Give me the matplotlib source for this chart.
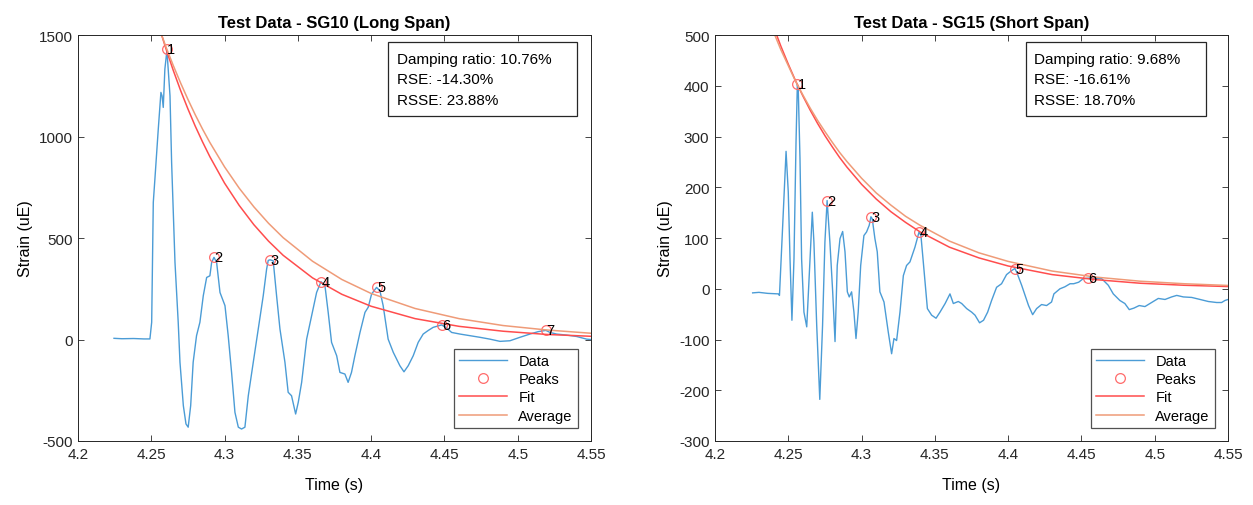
import matplotlib
matplotlib.use("Agg")
import matplotlib.pyplot as plt
from matplotlib.patches import Rectangle

plt.rcParams['font.family'] = ['Liberation Sans', 'DejaVu Sans']
plt.rcParams['axes.unicode_minus'] = False

# ---- SG10 (long span) ----
sg10_t = [4.2246, 4.2300, 4.2380, 4.2450, 4.2491, 4.2503, 4.2514, 4.2525, 4.2548, 4.2566,
          4.2574, 4.2582, 4.2593, 4.2607, 4.2628, 4.2639, 4.2662, 4.2684, 4.2696, 4.2719,
          4.2737, 4.2752, 4.2769, 4.2786, 4.2809, 4.2832, 4.2855, 4.2878, 4.2900, 4.2912,
          4.2928, 4.2946, 4.2969, 4.3003, 4.3025, 4.3048, 4.3071, 4.3094, 4.3116, 4.3139,
          4.3162, 4.3196, 4.3230, 4.3264, 4.3287, 4.3298, 4.3310, 4.3332, 4.3355, 4.3378,
          4.3412, 4.3434, 4.3457, 4.3485, 4.3503, 4.3526, 4.3560, 4.3594, 4.3628, 4.3658,
          4.3685, 4.3707, 4.3730, 4.3765, 4.3787, 4.3821, 4.3843, 4.3866, 4.3889, 4.3924,
          4.3958, 4.3980, 4.4003, 4.4037, 4.4060, 4.4082, 4.4116, 4.4151, 4.4196, 4.4224,
          4.4253, 4.4287, 4.4321, 4.4355, 4.4390, 4.4423, 4.4480, 4.4510, 4.4549, 4.4606,
          4.4674, 4.4742, 4.4810, 4.4879, 4.4947, 4.5015, 4.5083, 4.5140, 4.5192, 4.5220,
          4.5265, 4.5333, 4.5402, 4.5470, 4.5500]
sg10_v = [6, 4, 5, 3, 3, 85, 676, 791, 1037, 1218,
          1200, 1144, 1333, 1425, 1201, 873, 380, 85, -112, -326,
          -416, -432, -326, -112, 19, 85, 216, 306, 314, 380,
          405, 380, 232, 167, 19, -162, -359, -432, -441, -432,
          -277, -112, 52, 216, 347, 390, 393, 388, 216, 52,
          -112, -260, -277, -367, -309, -211, 2, 117, 232, 285,
          265, 134, -14, -80, -162, -170, -211, -162, -80, 35,
          134, 159, 224, 257, 240, 167, 2, -63, -129, -159,
          -129, -80, -14, 27, 45, 60, 72, 60, 35, 27,
          19, 11, 2, -9, -6, 11, 27, 39, 45, 35,
          27, 22, 15, 2, 0]
sg10_peak_t = [4.2607, 4.2928, 4.3310, 4.3658, 4.4037, 4.4480, 4.5192]
sg10_peak_v = [1430, 408, 393, 285, 257, 70, 45]
sg10_curve_t = [4.255, 4.26, 4.265, 4.27, 4.275, 4.28, 4.285, 4.29, 4.30, 4.31,
                4.32, 4.33, 4.34, 4.36, 4.38, 4.40, 4.43, 4.46, 4.49, 4.52, 4.55]
sg10_fit = [1549, 1434, 1327, 1228, 1137, 1052, 974, 901, 771, 661,
            566, 485, 415, 304, 223, 164, 103, 65, 41, 25, 16]
sg10_avg = [1542, 1443, 1351, 1265, 1184, 1108, 1037, 971, 851, 746,
            654, 573, 502, 386, 296, 227, 153, 103, 69, 47, 31]
sg10_stats = ["Damping ratio: 10.76%", "RSE: -14.30%", "RSSE: 23.88%"]

# ---- SG15 (short span) ----
sg15_t = [4.2257, 4.2300, 4.2360, 4.2432, 4.2440, 4.2462, 4.2485, 4.2500, 4.2512, 4.2525,
          4.2539, 4.2553, 4.2562, 4.2568, 4.2580, 4.2591, 4.2607, 4.2626, 4.2643, 4.2664,
          4.2675, 4.2694, 4.2715, 4.2734, 4.2750, 4.2765, 4.2784, 4.2803, 4.2819, 4.2834,
          4.2853, 4.2871, 4.2887, 4.2903, 4.2916, 4.2932, 4.2948, 4.2962, 4.2977, 4.2994,
          4.3016, 4.3034, 4.3052, 4.3064, 4.3073, 4.3091, 4.3107, 4.3125, 4.3153, 4.3182,
          4.3205, 4.3221, 4.3239, 4.3262, 4.3285, 4.3307, 4.3330, 4.3364, 4.3392, 4.3405,
          4.3421, 4.3449, 4.3478, 4.3508, 4.3535, 4.3570, 4.3603, 4.3626, 4.3660, 4.3683,
          4.3717, 4.3751, 4.3774, 4.3805, 4.3832, 4.3860, 4.3887, 4.3921, 4.3955, 4.3989,
          4.4024, 4.4046, 4.4058, 4.4092, 4.4139, 4.4167, 4.4194, 4.4228, 4.4262, 4.4296,
          4.4312, 4.4353, 4.4387, 4.4422, 4.4447, 4.4481, 4.4512, 4.4546, 4.4580, 4.4638,
          4.4683, 4.4717, 4.4762, 4.4796, 4.4826, 4.4858, 4.4894, 4.4933, 4.4967, 4.5024,
          4.5070, 4.5115, 4.5150, 4.5195, 4.5252, 4.5309, 4.5365, 4.5422, 4.5456, 4.5479,
          4.5500]
sg15_v = [-8, -7, -9, -10, -13, 125, 271, 191, 59, -62,
          59, 290, 403, 395, 257, 59, -46, -75, 26, 151,
          92, -72, -218, -72, 92, 174, 92, -6, -104, 46,
          99, 113, 73, -6, -16, -6, -46, -98, -46, 46,
          105, 112, 125, 142, 138, 99, 73, -6, -26, -85,
          -128, -98, -102, -46, 26, 46, 53, 82, 112, 105,
          53, -39, -52, -58, -46, -29, -10, -29, -25, -29,
          -39, -46, -52, -67, -62, -46, -23, 3, 10, 28,
          36, 40, 33, 7, -33, -51, -39, -31, -33, -26,
          -10, 0, 4, 10, 10, 13, 20, 21, 21, 20,
          7, -10, -23, -29, -41, -38, -33, -35, -29, -19,
          -21, -16, -13, -16, -17, -21, -25, -27, -27, -23,
          -21]
sg15_peak_t = [4.2562, 4.2765, 4.3064, 4.3392, 4.4046, 4.4546]
sg15_peak_v = [403, 174, 142, 112, 40, 21]
sg15_curve_t = [4.24, 4.245, 4.25, 4.255, 4.26, 4.265, 4.27, 4.275, 4.28, 4.285,
                4.29, 4.30, 4.31, 4.32, 4.33, 4.34, 4.36, 4.38, 4.40, 4.43,
                4.46, 4.49, 4.52, 4.55]
sg15_fit = [516, 478, 443, 410, 380, 352, 326, 302, 280, 259,
            240, 206, 177, 152, 131, 112, 82, 61, 45, 28,
            18, 11, 7, 4.5]
sg15_avg = [506, 471, 440, 409, 382, 356, 332, 310, 289, 269,
            251, 218, 189, 165, 143, 125, 94, 71, 54, 35,
            23, 15, 10, 6.6]
sg15_stats = ["Damping ratio: 9.68%", "RSE: -16.61%", "RSSE: 18.70%"]

C_DATA = '#4b9cd6'
C_FIT = '#ff4d4d'
C_AVG = '#ef9b78'
C_PEAK = '#ff6b6b'
C_AX = '#262626'


def draw_panel(ax, title, t, v, pk_t, pk_v, ct, fit, avg, stats, ylim, yticks, box_x):
    ax.plot(t, v, color=C_DATA, lw=1.0, label='Data')
    ax.plot(pk_t, pk_v, 'o', mfc='none', mec=C_PEAK, ms=7, mew=0.9, label='Peaks')
    ax.plot(ct, fit, color=C_FIT, lw=1.1, label='Fit')
    ax.plot(ct, avg, color=C_AVG, lw=1.1, label='Average')
    for i, (px, py) in enumerate(zip(pk_t, pk_v)):
        ax.text(px + 0.0003, py, str(i + 1), fontsize=10.5, ha='left', va='center',
                color='black')

    ax.set_xlim(4.2, 4.55)
    ax.set_ylim(*ylim)
    ax.set_xticks([4.2, 4.25, 4.3, 4.35, 4.4, 4.45, 4.5, 4.55])
    ax.set_xticklabels(['4.2', '4.25', '4.3', '4.35', '4.4', '4.45', '4.5', '4.55'])
    ax.set_yticks(yticks)
    ax.tick_params(direction='in', top=True, right=True, length=4, width=0.6,
                   colors=C_AX, labelsize=11, pad=4)
    for sp in ax.spines.values():
        sp.set_color(C_AX)
        sp.set_linewidth(0.7)
    ax.set_title(title, fontsize=12, fontweight='bold', pad=6)
    ax.set_xlabel('Time (s)', fontsize=11.5, labelpad=12)
    ax.set_ylabel('Strain (uE)', fontsize=11.5, labelpad=4)

    # annotation box with the fit statistics
    x0, x1 = box_x
    ax.add_patch(Rectangle((x0, 0.80), x1 - x0, 0.183, transform=ax.transAxes,
                           fc='white', ec=C_AX, lw=0.9, zorder=4))
    for k, line in enumerate(stats):
        ax.text(0.622, 0.941 - k * 0.05, line, transform=ax.transAxes, fontsize=11,
                ha='left', va='center', zorder=5)

    leg = ax.legend(loc='lower right', fontsize=10.5, frameon=True, fancybox=False,
                    edgecolor=C_AX, handlelength=3.3, borderaxespad=0.9,
                    labelspacing=0.3, borderpad=0.35, handletextpad=0.8)
    leg.get_frame().set_linewidth(0.9)


fig = plt.figure(figsize=(12.53, 5.06), dpi=100)
ax1 = fig.add_axes([0.0622, 0.1265, 0.4095, 0.802])
ax2 = fig.add_axes([0.5706, 0.1265, 0.4095, 0.802])

draw_panel(ax1, 'Test Data - SG10 (Long Span)', sg10_t, sg10_v, sg10_peak_t, sg10_peak_v,
           sg10_curve_t, sg10_fit, sg10_avg, sg10_stats, (-500, 1500),
           [-500, 0, 500, 1000, 1500], (0.604, 0.973))
draw_panel(ax2, 'Test Data - SG15 (Short Span)', sg15_t, sg15_v, sg15_peak_t, sg15_peak_v,
           sg15_curve_t, sg15_fit, sg15_avg, sg15_stats, (-300, 500),
           [-300, -200, -100, 0, 100, 200, 300, 400, 500], (0.606, 0.957))

fig.savefig('out.png', dpi=100)
